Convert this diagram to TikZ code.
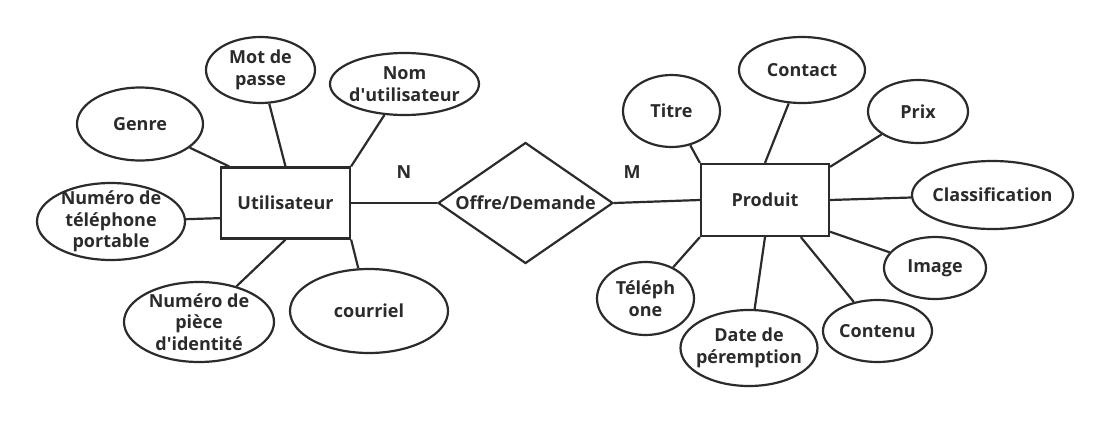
\documentclass[tikz,border=0pt]{standalone}
\usepackage{fontspec}
\setmainfont{Open Sans}
\usetikzlibrary{shapes.geometric}
\definecolor{ink}{HTML}{2B2B2B}
\tikzset{
  lbl/.style={align=center,text=ink,inner sep=0pt,font=\bfseries\fontsize{18}{21.5}\selectfont},
  attr/.style={ellipse,draw=ink,line width=2.2pt,inner sep=0pt},
  entity/.style={rectangle,draw=ink,line width=2.2pt,minimum width=129,minimum height=71,lbl},
  link/.style={draw=ink,line width=2.2pt}
}
% attribute ellipse: name, position, width, height, text
\newcommand{\attrib}[5]{\node[attr,minimum width=#3,minimum height=#4,
  label={[lbl]center:#5}] (#1) at (#2) {};}

\begin{document}
\begin{tikzpicture}[x=1pt,y=-1pt]
\useasboundingbox (0,0) rectangle (1109,426);
% utilisateur
\node[entity] (user) at (285.5,203) {Utilisateur};
\attrib{genre}{140,124}{126}{73}{Genre}
\attrib{mdp}{260.5,70}{109}{66}{Mot de\\passe}
\attrib{nom}{404.5,84}{149}{62}{Nom\\d\textquotesingle utilisateur}
\attrib{tel}{111,221.5}{148}{77}{Numéro de\\téléphone\\portable}
\attrib{piece}{199,322}{150}{80}{Numéro de\\pièce\\d\textquotesingle identité}
\attrib{mail}{369,311}{158}{84}{courriel}
\draw[link] (genre) -- (user.147);
\draw[link] (mdp) -- (user.north);
\draw[link] (nom) -- (user.north east);
\draw[link] (tel) -- (user.193);
\draw[link] (piece) -- (user.south);
\draw[link] (mail) -- (user.south east);
% relation
\node[diamond,draw=ink,line width=2.2pt,inner sep=0pt,minimum width=175,minimum height=121,
  label={[lbl]center:Offre/Demande}] (offre) at (525.5,203) {};
\node[lbl] (n) at (404,172) {N};
\node[lbl] (m) at (632,172) {M};
\draw[link] (user.east) -- (offre.west);
% produit
\node[entity,minimum width=128,minimum height=72] (prod) at (765,200) {Produit};
\attrib{titre}{671.5,111}{97}{72}{Titre}
\attrib{contact}{802,70}{126}{66}{Contact}
\attrib{prix}{918,111.5}{100}{63}{Prix}
\attrib{classif}{992.5,195}{161}{68}{Classification}
\attrib{image}{935,268}{102}{62}{Image}
\attrib{contenu}{877.5,331}{109}{62}{Contenu}
\attrib{date}{749,348}{137}{76}{Date de\\péremption}
\attrib{telph}{645.5,298.5}{97}{73}{Téléph\\one}
\draw[link] (offre.east) -- (prod.west);
\draw[link] (titre) -- (prod.north west);
\draw[link] (contact) -- (prod.north);
\draw[link] (prix) -- (prod.27);
\draw[link] (classif) -- (prod.east);
\draw[link] (image) -- (prod.334);
\draw[link] (contenu) -- (prod.314);
\draw[link] (date) -- (prod.south);
\draw[link] (telph) -- (prod.south west);
\end{tikzpicture}
\end{document}
